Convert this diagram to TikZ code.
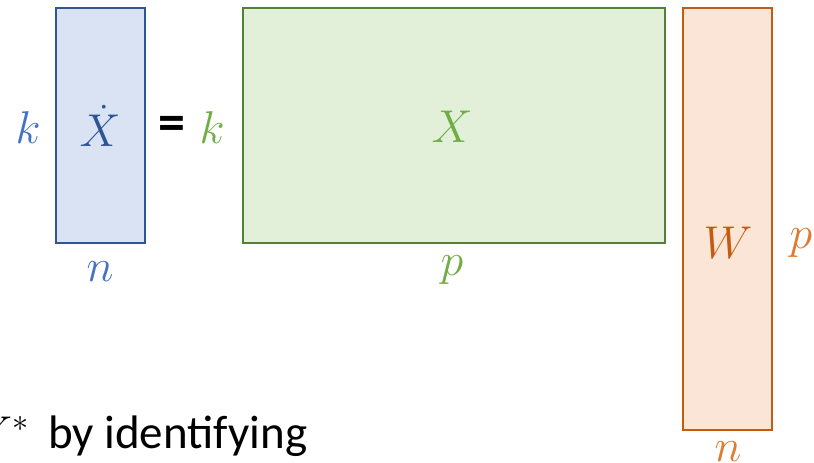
\RequirePackage{fix-cm}
\documentclass[tikz,border=0pt]{standalone}
\usepackage{fontspec}
\setmainfont{Carlito}
\definecolor{bfill}{HTML}{DAE3F3}
\definecolor{bdraw}{HTML}{2F5597}
\definecolor{blab}{HTML}{4472C4}
\definecolor{gfill}{HTML}{E2F0D9}
\definecolor{gdraw}{HTML}{548235}
\definecolor{glab}{HTML}{70AD47}
\definecolor{ofill}{HTML}{FBE5D6}
\definecolor{odraw}{HTML}{C55A11}
\definecolor{olab}{HTML}{E07A30}
\tikzset{
  mat/.style={rectangle, line width=2.2pt, inner sep=0pt},
  lab/.style={inner sep=0pt, font=\fontsize{46}{54}\selectfont},
}
\begin{document}
\begin{tikzpicture}[x=1pt,y=-1pt]
\useasboundingbox (0,0) rectangle (814,463);
\node[mat, draw=bdraw, fill=bfill, minimum width=89pt, minimum height=235pt] (A) at (100.5,125.5) {};
\node[mat, draw=gdraw, fill=gfill, minimum width=422pt, minimum height=235pt] (B) at (454,125.5) {};
\node[mat, draw=odraw, fill=ofill, minimum width=89pt, minimum height=422pt] (C) at (727.5,219) {};
\node[lab, text=blab] (kA) at (28,128) {$k$};
\node[lab, text=bdraw] (XA) at (100,126) {$\dot X$};
\node[lab, font=\fontsize{54}{60}\selectfont] (eq) at (172,128) {\textbf{=}};
\node[lab, text=glab] (kB) at (212,128) {$k$};
\node[lab, text=glab] (XB) at (452,127) {$X$};
\node[lab, text=blab] (nA) at (100,272) {$n$};
\node[lab, text=glab] (pB) at (452,270) {$p$};
\node[lab, text=odraw] (WC) at (728,243) {$W$};
\node[lab, text=olab] (pC) at (801,243) {$p$};
\node[lab, text=olab] (nC) at (728,452) {$n$};
\node[anchor=base east, inner sep=0pt, font=\fontsize{46}{54}\selectfont] (Y) at (29,448) {$Y^*$};
\node[anchor=base west, inner sep=0pt, font=\fontsize{47}{54}\selectfont] (txt) at (48,448) {by identifying};
\end{tikzpicture}
\end{document}
